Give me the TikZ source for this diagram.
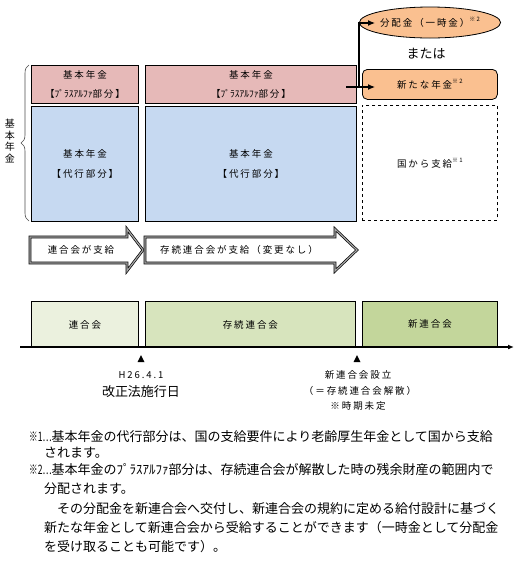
\documentclass[tikz,border=0pt]{standalone}
\usepackage{fontspec}
\usepackage{graphicx}
\setmainfont{Noto Sans CJK JP}
\newfontfamily\bxf[LetterSpace=20]{Noto Sans CJK JP}
\usetikzlibrary{shapes.geometric,arrows.meta,decorations.pathreplacing}
\definecolor{pinkc}{HTML}{E6B9B8}
\definecolor{bluec}{HTML}{C6D9F1}
\definecolor{orangec}{HTML}{FAC090}
\definecolor{gA}{HTML}{EBF1DE}
\definecolor{gB}{HTML}{D7E4BD}
\definecolor{gC}{HTML}{C3D69B}
\newcommand\supnote[1]{\raisebox{0.55em}{\fontsize{6}{6}\selectfont #1}}
\newcommand\hk[1]{{\addfontfeature{LetterSpace=0}#1}}
\newcommand\notemark[1]{\scalebox{0.66}[1]{#1}}
\begin{document}
\begin{tikzpicture}[x=1pt,y=-1pt,
  box/.style={draw=black,line width=0.9pt,anchor=north west,inner sep=0pt,align=center,
    font=\bxf\fontsize{9.5}{19.5}\selectfont},
  lbl/.style={inner sep=0pt,font=\bxf\fontsize{9.5}{12}\selectfont},
  big/.style={inner sep=0pt,font=\fontsize{13}{15}\selectfont},
  note/.style={inner sep=0pt,anchor=west,font=\fontsize{13}{15}\selectfont},
  barrow/.style={draw=black,line width=0.7pt,double=gray!70,double distance=1.2pt,fill=white},
  conn/.style={line width=1.1pt,-{Latex[length=7pt,width=6pt]}}]
\useasboundingbox (0,0) rectangle (516,566);

% upper blocks
\node[box,fill=pinkc,minimum width=107pt,minimum height=38pt] (p1) at (31,65) {基本年金\\【\hk{ﾌﾟﾗｽｱﾙﾌｧ}部分】};
\node[box,fill=pinkc,minimum width=211pt,minimum height=38pt] (p2) at (145,65) {基本年金\\【\hk{ﾌﾟﾗｽｱﾙﾌｧ}部分】};
\node[box,fill=bluec,minimum width=107pt,minimum height=115pt] (b1) at (31,106) {基本年金\\【代行部分】};
\node[box,fill=bluec,minimum width=211pt,minimum height=115pt] (b2) at (145,106) {基本年金\\【代行部分】};
\node[box,fill=orangec,line width=0.8pt,rounded corners=5pt,minimum width=135pt,minimum height=30pt] (np) at (362,69) {新たな年金\supnote{※2}};
\node[box,dashed,line width=0.8pt,minimum width=135pt,minimum height=115pt] (kd) at (362,105) {国から支給\supnote{※1}};
\node[ellipse,draw=black,line width=0.8pt,fill=orangec,minimum width=127pt,minimum height=31pt,inner sep=0pt,
  font=\bxf\fontsize{9.5}{12}\selectfont] (hk) at (430,22.5) {分配金（一時金）\supnote{※2}};
\node[big] (mata) at (426,54) {または};

% connectors
\coordinate (as) at (346,87);
\coordinate (ae) at (375,87);
\coordinate (br) at (359,87);
\coordinate (ee) at (375,23);
\draw[conn] (as) -- (ae);
\draw[conn] (br) |- (ee);

% brace and vertical label
\draw[decorate,decoration={brace,amplitude=8pt},gray!60!black,line width=0.6pt] (29,221) -- (29,65);
\node[inner sep=0pt,align=center,font=\fontsize{10}{11.4}\selectfont] (vk) at (10,141) {基\\本\\年\\金};

% block arrows
\draw[barrow] (30,237) -- (127,237) -- (127,229) -- (143,250) -- (127,271) -- (127,263) -- (30,263) -- cycle;
\draw[barrow] (145,237) -- (335,237) -- (335,229) -- (357,250) -- (335,271) -- (335,263) -- (145,263) -- cycle;
\node[lbl] (a1t) at (81,250) {連合会が支給};
\node[lbl] (a2t) at (239,250) {存続連合会が支給（変更なし）};

% timeline
\node[box,line width=0.8pt,fill=gA,minimum width=107pt,minimum height=46pt] (t1) at (31,301) {連合会};
\node[box,line width=0.8pt,fill=gB,minimum width=210pt,minimum height=46pt] (t2) at (145,301) {存続連合会};
\node[box,line width=0.8pt,fill=gC,minimum width=135pt,minimum height=46pt] (t3) at (362,301) {新連合会};
\coordinate (ax0) at (20,347);
\coordinate (ax1) at (514,347);
\draw[line width=1.2pt,-{Latex[length=6pt,width=5pt]}] (ax0) -- (ax1);
\fill (137.5,362) -- (141,355) -- (144.5,362) -- cycle;
\fill (353.5,362) -- (357,355) -- (360.5,362) -- cycle;
\node[lbl] (d1) at (141,375) {H26.4.1};
\node[big] (d1b) at (141,392) {改正法施行日};
\node[lbl] (d2) at (358,375) {新連合会設立};
\node[lbl] (d2b) at (360,391) {（＝存続連合会解散）};
\node[lbl] (d2c) at (358,406) {※時期未定};

% notes
\node[note] (n1) at (29,437) {\notemark{※1…}基本年金の代行部分は、国の支給要件により老齢厚生年金として国から支給};
\node[note] (n1b) at (44,453) {されます。};
\node[note] (n2) at (29,470) {\notemark{※2…}基本年金のﾌﾟﾗｽｱﾙﾌｧ部分は、存続連合会が解散した時の残余財産の範囲内で};
\node[note] (n2b) at (44,489) {分配されます。};
\node[note] (n2c) at (57,509) {その分配金を新連合会へ交付し、新連合会の規約に定める給付設計に基づく};
\node[note] (n2d) at (44,528) {新たな年金として新連合会から受給することができます（一時金として分配金};
\node[note] (n2e) at (44,547) {を受け取ることも可能です）。};
\end{tikzpicture}
\end{document}
